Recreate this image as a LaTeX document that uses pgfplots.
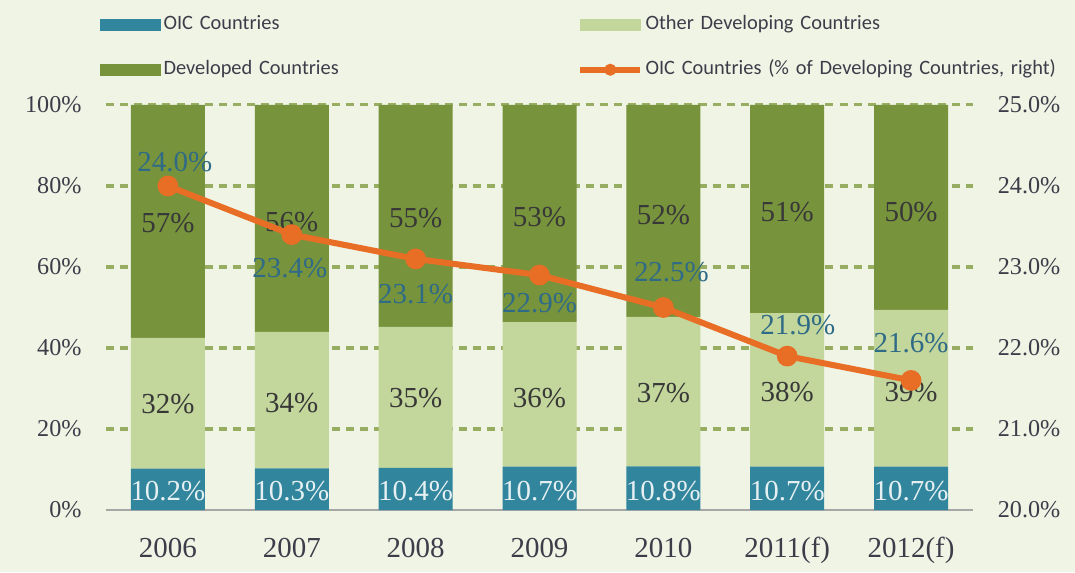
\documentclass[border=0pt]{standalone}
\usepackage{pgfplots}
\usepackage{pgfplotstable}
\pgfplotsset{compat=1.18}
\usepackage{fontspec}
\setmainfont{Liberation Serif}
\newfontfamily\legfont{Carlito}

\definecolor{bgc}{HTML}{F0F4E5}
\definecolor{oic}{HTML}{31859C}
\definecolor{oth}{HTML}{C3D69B}
\definecolor{dev}{HTML}{77933C}
\definecolor{lin}{HTML}{E86E26}
\definecolor{grd}{HTML}{97AE62}
\definecolor{axg}{HTML}{A6A6A6}
\definecolor{txt}{HTML}{3D3D4A}
\definecolor{lbl}{HTML}{2F6B86}
\definecolor{dlbl}{HTML}{383838}
\definecolor{oicl}{HTML}{E6F0F2}

% bar heights in % of total; r = OIC in % of developing countries (right axis)
\pgfplotstableread{
x oic oth dev r
0 10.2 32.3 57.5 24.0
1 10.3 33.7 56.0 23.4
2 10.4 34.8 54.8 23.1
3 10.7 35.7 53.6 22.9
4 10.8 36.9 52.3 22.5
5 10.7 37.9 51.4 21.9
6 10.7 38.7 50.6 21.6
}\shares

% where the value labels sit (left axis units)
\pgfplotstableread{
x y t
0 4.7 10.2
1 4.7 10.3
2 4.7 10.4
3 4.7 10.7
4 4.7 10.8
5 4.7 10.7
6 4.7 10.7
}\oiclabels

\pgfplotstableread{
x y t
0 26.2 32
1 26.4 34
2 27.7 35
3 27.7 36
4 28.9 37
5 29.1 38
6 29.1 39
0 70.9 57
1 71.1 56
2 72.1 55
3 72.3 53
4 72.8 52
5 73.6 51
6 73.6 50
}\barlabels

% right axis units
\pgfplotstableread{
x y t
0.056 24.296 24.0
0.984 22.988 23.4
2 22.667 23.1
3 22.556 22.9
4.065 22.938 22.5
5.085 22.284 21.9
6 22.06 21.6
}\linelabels

\pgfplotsset{
  base/.style={scale only axis, width=12.097cm, height=5.651cm, xmin=-0.5, xmax=6.5},
  lblstyle/.style={draw=none, mark=none, point meta=explicit symbolic,
    nodes near coords={\pgfplotspointmeta\%},
    nodes near coords style={anchor=center, inner sep=0pt, font=\fontsize{11.5}{13}\selectfont, text=#1}},
}

\begin{document}
\begin{tikzpicture}
\fill[bgc] (-1.479cm,-0.865cm) rectangle (13.520cm,7.116cm);

\begin{axis}[base,
  ybar stacked, bar width=1.0325cm,
  ymin=0, ymax=100,
  xtick={0,...,6}, xticklabels={2006,2007,2008,2009,2010,2011(f),2012(f)},
  ytick={20,40,...,100}, extra y ticks={0}, extra y tick style={grid=none},
  yticklabel={\pgfmathprintnumber{\tick}\%},
  /pgf/number format/assume math mode=true,
  axis x line*=bottom, axis y line*=left,
  axis line style={-},
  x axis line style={draw=axg, line width=0.8pt},
  y axis line style={draw=none},
  major tick length=0pt,
  ymajorgrids, grid style={draw=grd, line width=1.2pt, dash pattern=on 3.2pt off 2.4pt},
  xticklabel style={anchor=base, inner sep=0pt, yshift=-0.656cm, font=\fontsize{11.5}{13}\selectfont, text=txt},
  yticklabel style={anchor=east, inner sep=0pt, xshift=-0.335cm, font=\fontsize{9.6}{11}\selectfont, text=txt},
  legend columns=2, legend cell align=left,
  legend style={draw=none, fill=none, inner sep=0pt, outer sep=0pt,
    at={(axis description cs:-0.0069,1.2226)}, anchor=north west,
    font=\legfont\fontsize{8.1}{9.7}\selectfont, text=txt,
    row sep=9.8pt,
    nodes={inner sep=0pt, text height=6pt, text depth=2pt, text width=5.776cm, align=left},
    /tikz/every odd column/.append style={column sep=0.035cm}},
]
\addplot[fill=oic, draw=none, forget plot] table[x=x, y=oic]{\shares};
\addplot[fill=oth, draw=none, forget plot] table[x=x, y=oth]{\shares};
\addplot[fill=dev, draw=none, forget plot] table[x=x, y=dev]{\shares};
\addlegendimage{legend image code/.code={\fill[oic] (0cm,-0.077cm) rectangle (0.837cm,0.077cm);}}
\addlegendentry{OIC Countries}
\addlegendimage{legend image code/.code={\fill[oth] (0cm,-0.077cm) rectangle (0.837cm,0.077cm);}}
\addlegendentry{Other Developing Countries}
\addlegendimage{legend image code/.code={\fill[dev] (0cm,-0.077cm) rectangle (0.837cm,0.077cm);}}
\addlegendentry{Developed Countries}
\addlegendimage{legend image code/.code={\draw[lin, line width=2.2pt] (0cm,0cm) -- (0.837cm,0cm); \fill[lin] (0.4185cm,0cm) circle (2.2pt);}}
\addlegendentry{OIC Countries (\% of Developing Countries, right)}
\end{axis}

\begin{axis}[base, ymin=0, ymax=100, hide axis]
\addplot[lblstyle=oicl] table[x=x, y=y, meta=t]{\oiclabels};
\addplot[lblstyle=dlbl] table[x=x, y=y, meta=t]{\barlabels};
\end{axis}

\begin{axis}[base,
  ymin=20, ymax=25, ytick={20,...,25},
  axis y line*=right, hide x axis,
  y axis line style={draw=none},
  major tick length=0pt,
  yticklabel={\pgfmathprintnumber[fixed,fixed zerofill,precision=1]{\tick}\%},
  /pgf/number format/assume math mode=true,
  yticklabel style={anchor=west, inner sep=0pt, xshift=0.34cm, font=\fontsize{9.6}{11}\selectfont, text=txt},
]
\addplot[draw=lin, line width=2.4pt, mark=*, mark size=2.9pt, mark options={fill=lin, draw=none}] table[x=x, y=r]{\shares};
\addplot[lblstyle=lbl] table[x=x, y=y, meta=t]{\linelabels};
\end{axis}
\end{tikzpicture}
\end{document}
